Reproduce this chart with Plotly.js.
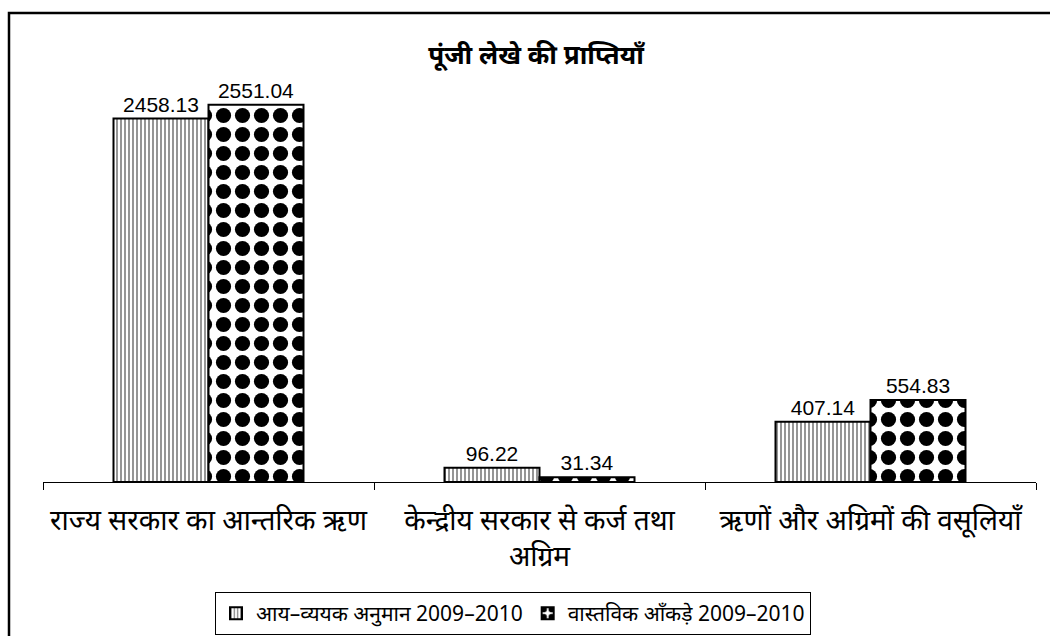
<!DOCTYPE html>
<html>
<head>
<meta charset="utf-8">
<script src="https://cdn.plot.ly/plotly-3.0.1.min.js"></script>
<style>
html,body{margin:0;padding:0;background:#fff;}
#chart{width:1050px;height:636px;}
</style>
</head>
<body>
<div id="chart"></div>
<script>
const categories = [
  "राज्य सरकार का आन्तरिक ऋण",
  "केन्द्रीय सरकार से कर्ज तथा<br>अग्रिम",
  "ऋणों और अग्रिमों की वसूलियाँ"
];
const seriesNames = ["आय–व्ययक अनुमान 2009–2010", "वास्तविक आँकड़े 2009–2010"];
const budgetValues = [2458.13, 96.22, 407.14];
const actualValues = [2551.04, 31.34, 554.83];
const valueLabels1 = ["2458.13", "96.22", "407.14"];
const valueLabels2 = ["2551.04", "31.34", "554.83"];

const devFont = "'Noto Sans', 'Noto Sans Devanagari', 'Lohit Devanagari', sans-serif";
const numFont = "'Liberation Sans', Arial, sans-serif";

const trace1 = {
  type: 'bar',
  name: seriesNames[0],
  x: categories,
  y: budgetValues,
  text: valueLabels1,
  textposition: 'outside',
  textfont: {family: numFont, size: 21, color: '#000'},
  cliponaxis: false,
  marker: {
    color: '#ffffff',
    line: {color: '#000', width: 2},
    pattern: {shape: '|', size: 4, solidity: 0.45, fgcolor: '#8a8a8a', bgcolor: '#ffffff', fillmode: 'replace'}
  },
  hoverinfo: 'none'
};
const trace2 = {
  type: 'bar',
  name: seriesNames[1],
  x: categories,
  y: actualValues,
  text: valueLabels2,
  textposition: 'outside',
  textfont: {family: numFont, size: 21, color: '#000'},
  cliponaxis: false,
  marker: {
    color: '#ffffff',
    line: {color: '#000', width: 2},
    pattern: {shape: '.', size: 19, solidity: 0.5, fgcolor: '#000000', bgcolor: '#ffffff', fillmode: 'replace'}
  },
  hoverinfo: 'none'
};

const L = 43, R = 14, T = 68, B = 154;
const W = 1050 - L - R, H = 636 - T - B;
const px2x = p => (p - L) / W;
const py2y = p => (636 - B - p) / H;

const layout = {
  width: 1050, height: 636,
  margin: {l: L, r: R, t: T, b: B, autoexpand: false},
  paper_bgcolor: '#fff', plot_bgcolor: '#fff',
  title: {
    text: '<b>पूंजी लेखे की प्राप्तियाँ</b>',
    font: {family: devFont, size: 26, color: '#000'},
    x: 536/1050, xanchor: 'center', xref: 'container',
    y: 1 - 55/636, yanchor: 'middle', yref: 'container'
  },
  barmode: 'group',
  bargap: 0.426,
  bargroupgap: 0,
  xaxis: {
    type: 'category',
    automargin: false,
    showline: true, linecolor: '#000', linewidth: 1,
    ticks: 'outside', tickson: 'boundaries', ticklen: 7, tickcolor: '#000', tickwidth: 1,
    ticklabelstandoff: 13,
    tickfont: {family: devFont, size: 28, color: '#000'},
    showgrid: false, zeroline: false, fixedrange: true
  },
  yaxis: {
    range: [0, 2800],
    automargin: false,
    visible: false, showgrid: false, zeroline: false, fixedrange: true
  },
  showlegend: true,
  legend: {
    orientation: 'h',
    x: px2x(215), xanchor: 'left',
    y: py2y(592), yanchor: 'top',
    bordercolor: '#000', borderwidth: 1,
    bgcolor: '#fff',
    font: {family: devFont, size: 21, color: '#000'},
    itemwidth: 30
  },
  shapes: [
    {type: 'path', xref: 'paper', yref: 'paper',
     path: `M ${px2x(9)} ${py2y(700)} L ${px2x(9)} ${py2y(13)} L ${px2x(1060)} ${py2y(13)}`,
     line: {color: '#000', width: 2.5}}
  ]
};

Plotly.newPlot('chart', [trace1, trace2], layout, {displayModeBar: false, staticPlot: true});
</script>
</body>
</html>
